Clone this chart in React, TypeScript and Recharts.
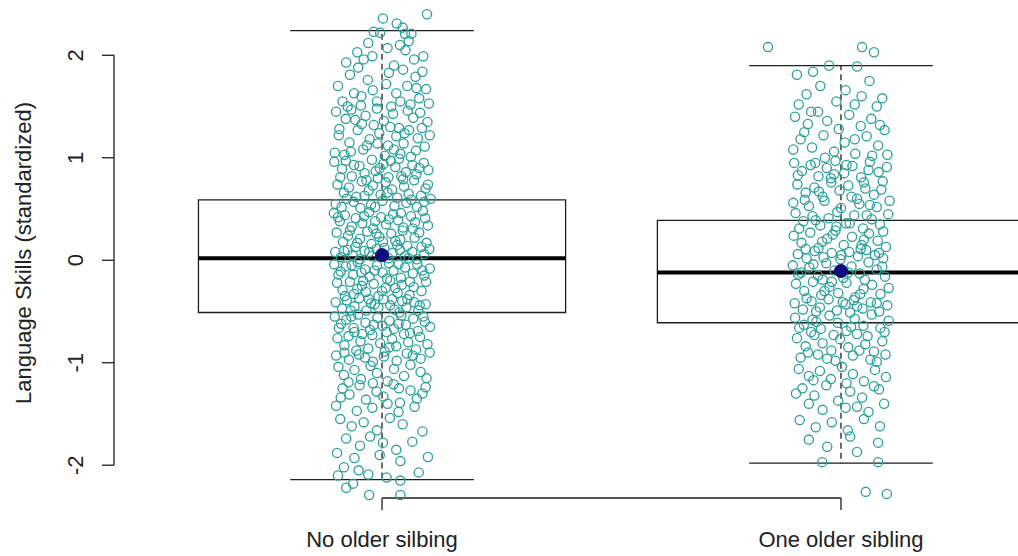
import { ScatterChart, Scatter, XAxis, YAxis, ReferenceArea, ReferenceLine } from 'recharts'

const groupNames = ['No older silbing', 'One older sibling']
const groupPositions = [1, 2]
const yTicks = [-2, -1, 0, 1, 2]

// box statistics
const boxLower = [-0.51, -0.61]
const boxMedian = [0.02, -0.12]
const boxUpper = [0.59, 0.39]
const whiskerLow = [-2.14, -1.98]
const whiskerHigh = [2.24, 1.9]
const groupMeans = [0.05, -0.105]

// jittered observations: [horizontal jitter, value]
const noOlderPoints: [number, number][] = [
  [0.002, 2.36], [0.098, 2.4], [-0.018, 2.23], [-0.004, 2.22], [0.045, 2.27], [0.05, 2.21], [0.064, 2.21], [0.032, 2.31],
  [-0.054, 2.03], [-0.04, 1.96], [0.039, 2.1], [0.051, 2.05], [0.058, 2.14], [0.07, 1.96], [0.026, 1.9], [-0.021, 1.99],
  [0.09, 1.99], [-0.078, 1.93], [0.012, 2.07], [-0.03, 2.12],
  [-0.07, 1.81], [-0.086, 1.55], [-0.061, 1.63], [-0.031, 1.76], [0.009, 1.72], [0.046, 1.86], [0.073, 1.79], [0.096, 1.67],
  [0.081, 1.58], [-0.011, 1.55], [0.031, 1.63], [-0.046, 1.51], [0.055, 1.7], [-0.096, 1.7], [0.015, 1.83], [0.062, 1.52],
  [-0.052, 1.88], [0.088, 1.84], [-0.02, 1.66], [0.04, 1.55], [-0.075, 1.5], [0.102, 1.53],
  [-0.045, 1.6], [0.02, 1.5], [0.075, 1.68],
  [-0.1, 1.45], [-0.079, 1.38], [-0.067, 1.47], [-0.044, 1.33], [-0.036, 1.41], [-0.011, 1.48], [0.004, 1.36], [0.024, 1.43],
  [0.037, 1.29], [0.056, 1.46], [0.068, 1.39], [0.083, 1.44], [0.099, 1.35], [-0.094, 1.22], [-0.071, 1.15], [-0.053, 1.27],
  [-0.027, 1.18], [-0.006, 1.24], [0.013, 1.12], [0.031, 1.21], [0.047, 1.14], [0.059, 1.27], [0.078, 1.19], [0.093, 1.11],
  [-0.103, 1.05], [-0.082, 1.03], [-0.041, 1.08], [0.006, 1.02], [0.04, 1.04], [0.074, 1.07], [0.104, 1.22], [-0.018, 1.32],
  [-0.093, 1.28], [-0.058, 1.37], [-0.033, 1.12], [0.018, 1.3], [0.049, 1.24], [0.087, 1.29], [-0.068, 1.06], [0.026, 1.08],
  [0.063, 1.01], [-0.01, 1.14],
  [-0.104, 0.96], [-0.087, 0.89], [-0.079, 0.97], [-0.066, 0.82], [-0.049, 0.92], [-0.038, 0.85], [-0.022, 0.98], [-0.014, 0.87],
  [0.003, 0.94], [0.014, 0.81], [0.029, 0.91], [0.037, 0.99], [0.052, 0.86], [0.066, 0.93], [0.075, 0.84], [0.091, 0.95],
  [0.101, 0.88], [-0.097, 0.74], [-0.083, 0.66], [-0.072, 0.71], [-0.056, 0.62], [-0.044, 0.77], [-0.029, 0.68], [-0.02, 0.73],
  [-0.003, 0.64], [0.008, 0.76], [0.022, 0.69], [0.033, 0.61], [0.048, 0.72], [0.058, 0.65], [0.07, 0.78], [0.085, 0.63],
  [0.095, 0.7], [0.106, 0.6], [-0.101, 0.55], [-0.088, 0.52], [-0.062, 0.57], [-0.047, 0.51], [-0.024, 0.54], [0.001, 0.58],
  [0.027, 0.53], [0.053, 0.56], [0.076, 0.52], [0.092, 0.57], [-0.009, 0.8], [0.042, 0.82],
  [-0.091, 0.81], [-0.061, 0.93], [-0.034, 0.78], [-0.005, 0.9], [0.019, 0.97], [0.046, 0.79], [0.081, 0.9], [-0.077, 0.6],
  [-0.038, 0.63], [0.012, 0.66], [0.064, 0.59], [0.1, 0.74], [-0.015, 0.52],
  [-0.105, 0.46], [-0.092, 0.38], [-0.081, 0.44], [-0.066, 0.33], [-0.057, 0.41], [-0.043, 0.36], [-0.028, 0.47], [-0.019, 0.31],
  [-0.002, 0.42], [0.009, 0.35], [0.024, 0.45], [0.035, 0.39], [0.046, 0.32], [0.063, 0.43], [0.072, 0.37], [0.089, 0.48],
  [0.1, 0.34], [-0.099, 0.27], [-0.085, 0.18], [-0.074, 0.24], [-0.058, 0.13], [-0.048, 0.21], [-0.032, 0.28], [-0.023, 0.16],
  [-0.006, 0.23], [0.005, 0.12], [0.02, 0.26], [0.029, 0.19], [0.045, 0.29], [0.055, 0.14], [0.071, 0.22], [0.081, 0.27],
  [0.097, 0.17], [-0.102, 0.08], [-0.09, 0.03], [-0.075, 0.1], [-0.064, 0.05], [-0.048, 0.01], [-0.038, 0.09], [-0.022, 0.04],
  [-0.012, 0.11], [0.014, 0.02], [0.023, 0.07], [0.039, 0.1], [0.05, 0.04], [0.066, 0.08], [0.076, 0.01], [0.092, 0.06],
  [0.103, 0.11], [-0.015, 0.38], [0.04, 0.2],
  [-0.096, 0.42], [-0.07, 0.29], [-0.039, 0.43], [-0.012, 0.26], [0.015, 0.4], [0.041, 0.46], [0.067, 0.31], [0.094, 0.41],
  [-0.083, 0.09], [-0.054, 0.17], [-0.028, 0.08], [0.002, 0.18], [0.033, 0.15], [0.058, 0.02], [0.086, 0.13],
  [-0.104, -0.04], [-0.09, -0.11], [-0.079, -0.06], [-0.063, -0.14], [-0.053, -0.02], [-0.037, -0.09], [-0.027, -0.16], [-0.011, -0.05],
  [0.001, -0.12], [0.015, -0.03], [0.025, -0.1], [0.041, -0.17], [0.05, -0.07], [0.067, -0.13], [0.077, -0.04], [0.092, -0.15],
  [0.104, -0.08], [-0.098, -0.22], [-0.086, -0.29], [-0.07, -0.21], [-0.061, -0.33], [-0.044, -0.25], [-0.035, -0.31], [-0.018, -0.23],
  [-0.008, -0.35], [0.008, -0.27], [0.018, -0.2], [0.034, -0.32], [0.043, -0.24], [0.06, -0.34], [0.069, -0.26], [0.086, -0.3],
  [0.096, -0.21], [-0.101, -0.41], [-0.087, -0.47], [-0.077, -0.39], [-0.06, -0.45], [-0.05, -0.37], [-0.034, -0.49], [-0.024, -0.42],
  [-0.008, -0.46], [0.003, -0.38], [0.018, -0.44], [0.027, -0.48], [0.044, -0.4], [0.053, -0.46], [0.07, -0.41], [0.079, -0.49],
  [0.095, -0.43], [-0.045, -0.12], [0.022, -0.38],
  [-0.095, -0.14], [-0.066, -0.05], [-0.041, -0.2], [-0.016, -0.1], [0.011, -0.18], [0.036, -0.04], [0.061, -0.21], [0.088, -0.1],
  [-0.081, -0.35], [-0.054, -0.28], [-0.029, -0.38], [0.0, -0.3], [0.029, -0.27], [0.055, -0.38], [0.082, -0.44], [-0.068, -0.49],
  [-0.016, -0.43], [0.038, -0.51],
  [-0.103, -0.55], [-0.089, -0.62], [-0.078, -0.58], [-0.062, -0.66], [-0.052, -0.53], [-0.036, -0.61], [-0.026, -0.68], [-0.01, -0.56],
  [0.001, -0.64], [0.016, -0.59], [0.026, -0.67], [0.042, -0.54], [0.052, -0.63], [0.068, -0.57], [0.078, -0.69], [0.093, -0.6],
  [0.105, -0.65], [-0.097, -0.76], [-0.082, -0.83], [-0.073, -0.74], [-0.056, -0.88], [-0.047, -0.79], [-0.03, -0.86], [-0.021, -0.73],
  [-0.004, -0.81], [0.006, -0.89], [0.022, -0.77], [0.031, -0.84], [0.048, -0.72], [0.057, -0.8], [0.074, -0.87], [0.083, -0.75],
  [0.099, -0.82], [-0.1, -0.93], [-0.072, -0.97], [-0.05, -0.92], [-0.02, -0.99], [0.004, -0.94], [0.032, -0.98], [0.054, -0.91],
  [0.084, -0.96], [-0.06, -0.7],
  [-0.094, -0.66], [-0.067, -0.55], [-0.043, -0.72], [-0.018, -0.63], [0.01, -0.7], [0.036, -0.62], [0.061, -0.71], [0.09, -0.55],
  [-0.082, -0.9], [-0.037, -0.95], [0.016, -0.85], [0.067, -0.93], [0.104, -0.9],
  [-0.095, -1.04], [-0.083, -1.12], [-0.06, -1.07], [-0.046, -1.16], [-0.025, -1.03], [-0.011, -1.1], [0.012, -1.18], [0.026, -1.06],
  [0.048, -1.13], [0.062, -1.02], [0.084, -1.09], [0.097, -1.15], [-0.086, -1.25], [-0.071, -1.31], [-0.049, -1.22], [-0.035, -1.36],
  [-0.012, -1.28], [0.003, -1.33], [0.025, -1.21], [0.039, -1.39], [0.062, -1.27], [0.076, -1.35], [0.095, -1.24], [-0.1, -1.42],
  [-0.055, -1.47], [-0.021, -1.44], [0.036, -1.48], [0.071, -1.43],
  [-0.073, -1.19], [-0.02, -1.2], [0.037, -1.25], [0.088, -1.3], [-0.09, -1.34], [0.012, -1.4],
  [-0.091, -1.55], [-0.066, -1.62], [-0.04, -1.58], [-0.011, -1.66], [0.017, -1.54], [0.045, -1.6], [0.088, -1.67], [-0.078, -1.74],
  [-0.048, -1.81], [-0.026, -1.72], [0.002, -1.78], [0.031, -1.85], [0.066, -1.77], [-0.098, -1.88], [-0.06, -1.93], [-0.005, -1.9],
  [0.04, -1.96], [0.1, -1.92],
  [-0.083, -2.02], [-0.051, -2.05], [-0.096, -2.1], [-0.03, -2.09], [-0.063, -2.18], [-0.078, -2.22], [0.01, -2.12], [0.04, -2.15],
  [0.08, -2.07], [-0.028, -2.29], [0.04, -2.29],
]

const oneOlderPoints: [number, number][] = [
  [-0.159, 2.08], [0.046, 2.08], [0.072, 2.03], [-0.026, 1.9], [0.035, 1.89], [-0.096, 1.81], [-0.061, 1.84], [-0.045, 1.7],
  [-0.075, 1.62], [0.062, 1.75], [0.01, 1.66], [-0.01, 1.55], [0.09, 1.58], [0.03, 1.52], [-0.092, 1.52], [0.078, 1.5],
  [-0.065, 1.45], [0.045, 1.6],
  [-0.1, 1.4], [-0.072, 1.33], [-0.05, 1.45], [-0.03, 1.36], [-0.005, 1.28], [0.018, 1.42], [0.043, 1.31], [0.066, 1.38],
  [0.095, 1.27], [-0.088, 1.18], [-0.063, 1.1], [-0.038, 1.22], [-0.015, 1.06], [0.008, 1.15], [0.031, 1.04], [0.056, 1.21],
  [0.081, 1.12], [0.101, 1.03], [-0.104, 1.08], [0.068, 1.02], [-0.08, 1.25], [-0.035, 1.0], [0.03, 1.18], [0.085, 1.32],
  [-0.102, 0.95], [-0.085, 0.87], [-0.066, 0.93], [-0.049, 0.82], [-0.031, 0.9], [-0.012, 0.97], [0.007, 0.85], [0.025, 0.92],
  [0.044, 0.81], [0.063, 0.96], [0.082, 0.86], [0.1, 0.91], [-0.095, 0.74], [-0.077, 0.66], [-0.058, 0.71], [-0.04, 0.62],
  [-0.021, 0.76], [-0.003, 0.68], [0.016, 0.73], [0.035, 0.6], [0.053, 0.7], [0.072, 0.64], [0.091, 0.77], [-0.104, 0.56],
  [-0.07, 0.53], [-0.036, 0.58], [0.0, 0.51], [0.04, 0.55], [0.078, 0.52], [0.106, 0.58], [-0.015, 0.84], [0.06, 0.88],
  [-0.094, 0.83], [-0.056, 0.95], [-0.022, 0.8], [0.012, 0.93], [0.05, 0.76], [0.088, 0.69], [-0.079, 0.59], [-0.048, 0.67],
  [0.023, 0.62], [0.063, 0.54],
  [-0.099, 0.46], [-0.082, 0.38], [-0.062, 0.43], [-0.045, 0.34], [-0.027, 0.41], [-0.008, 0.47], [0.011, 0.36], [0.029, 0.44],
  [0.048, 0.31], [0.067, 0.4], [0.085, 0.35], [0.103, 0.45], [-0.103, 0.24], [-0.086, 0.17], [-0.067, 0.27], [-0.049, 0.12],
  [-0.03, 0.21], [-0.012, 0.29], [0.006, 0.15], [0.024, 0.23], [0.043, 0.11], [0.061, 0.26], [0.08, 0.19], [0.098, 0.13],
  [-0.094, 0.06], [-0.075, 0.02], [-0.057, 0.09], [-0.038, 0.03], [-0.02, 0.07], [-0.001, 0.01], [0.018, 0.08], [0.037, 0.04],
  [0.055, 0.1], [0.074, 0.05], [0.092, 0.02], [-0.01, 0.33], [0.05, 0.2],
  [-0.091, 0.31], [-0.055, 0.39], [-0.018, 0.25], [0.019, 0.36], [0.056, 0.44], [0.092, 0.28], [-0.077, 0.11], [-0.041, 0.18],
  [0.001, 0.05], [0.045, 0.15], [0.083, 0.07],
  [-0.105, -0.05], [-0.087, -0.12], [-0.069, -0.07], [-0.05, -0.15], [-0.032, -0.03], [-0.014, -0.1], [0.005, -0.17], [0.023, -0.06],
  [0.041, -0.13], [0.06, -0.02], [0.078, -0.09], [0.096, -0.16], [-0.098, -0.23], [-0.08, -0.3], [-0.061, -0.21], [-0.043, -0.34],
  [-0.025, -0.26], [-0.006, -0.32], [0.012, -0.22], [0.031, -0.36], [0.049, -0.28], [0.068, -0.24], [0.086, -0.33], [0.104, -0.27],
  [-0.101, -0.42], [-0.083, -0.48], [-0.064, -0.4], [-0.046, -0.46], [-0.027, -0.38], [-0.009, -0.49], [0.01, -0.43], [0.028, -0.39],
  [0.047, -0.47], [0.065, -0.41], [0.083, -0.5], [0.101, -0.44], [-0.04, -0.19], [0.035, -0.45],
  [-0.093, -0.14], [-0.06, -0.04], [-0.02, -0.21], [0.016, -0.12], [0.052, -0.19], [0.09, -0.06], [-0.075, -0.37], [-0.036, -0.3],
  [0.004, -0.41], [0.042, -0.33], [0.078, -0.42], [-0.054, -0.5], [0.02, -0.51],
  [-0.1, -0.56], [-0.081, -0.63], [-0.062, -0.58], [-0.044, -0.67], [-0.025, -0.54], [-0.007, -0.61], [0.012, -0.69], [0.03, -0.57],
  [0.049, -0.64], [0.067, -0.53], [0.086, -0.66], [0.104, -0.59], [-0.096, -0.76], [-0.077, -0.84], [-0.058, -0.73], [-0.04, -0.81],
  [-0.021, -0.88], [-0.002, -0.77], [0.016, -0.85], [0.035, -0.72], [0.053, -0.82], [0.072, -0.89], [0.09, -0.79], [-0.088, -0.95],
  [-0.05, -0.92], [-0.012, -0.98], [0.026, -0.93], [0.064, -0.97], [0.097, -0.92], [-0.065, -0.7],
  [-0.091, -0.66], [-0.054, -0.6], [-0.016, -0.73], [0.022, -0.65], [0.058, -0.74], [0.095, -0.7], [-0.072, -0.9], [-0.03, -0.96],
  [0.04, -0.88], [0.078, -0.99],
  [-0.092, -1.06], [-0.07, -1.13], [-0.046, -1.08], [-0.022, -1.16], [0.002, -1.04], [0.026, -1.11], [0.05, -1.18], [0.074, -1.07],
  [0.098, -1.14], [-0.084, -1.25], [-0.058, -1.32], [-0.032, -1.22], [-0.006, -1.37], [0.02, -1.28], [0.046, -1.34], [0.072, -1.23],
  [0.094, -1.4], [-0.04, -1.46], [0.01, -1.44], [0.06, -1.48],
  [-0.06, -1.17], [0.012, -1.2], [0.083, -1.26], [-0.098, -1.3], [0.035, -1.43], [-0.07, -1.4],
  [-0.09, -1.56], [-0.055, -1.63], [-0.02, -1.58], [0.015, -1.66], [0.05, -1.55], [0.085, -1.62], [-0.07, -1.75], [-0.03, -1.82],
  [0.02, -1.72], [0.081, -1.78], [0.035, -1.87], [-0.041, -1.97], [0.081, -1.97],
  [0.054, -2.26], [0.1, -2.28],
]

const pointColor = '#2a9f9c'
const meanColor = '#0c0c80'
const lineColor = '#1e1e1e'
const textColor = '#222222'
const fontFamily = '"Liberation Sans", Arial, sans-serif'

const toScatter = (points: [number, number][], pos: number) =>
  points.map(([dx, y]) => ({ x: pos + dx, y }))

const noOlderData = toScatter(noOlderPoints, groupPositions[0])
const oneOlderData = toScatter(oneOlderPoints, groupPositions[1])
const meanData = groupPositions.map((x, i) => ({ x, y: groupMeans[i] }))

const OpenCircle = (props: any) => (
  <circle cx={props.cx} cy={props.cy} r={4.6} fill="none" stroke={pointColor} strokeWidth={1.3} />
)

const MeanDot = (props: any) => (
  <circle cx={props.cx} cy={props.cy} r={6.5} fill={meanColor} stroke={meanColor} />
)

const XTick = (props: any) => {
  const idx = groupPositions.indexOf(props.payload.value)
  return (
    <text x={props.x} y={props.y} dy={35} textAnchor="middle" fontSize={22} fill={textColor} fontFamily={fontFamily}>
      {groupNames[idx]}
    </text>
  )
}

const YTick = (props: any) => {
  const x = props.x - 17
  return (
    <text x={x} y={props.y} textAnchor="middle" fontSize={22} fill={textColor} fontFamily={fontFamily}
      transform={`rotate(-90 ${x} ${props.y})`}>
      {props.payload.value}
    </text>
  )
}

const X_MIN = 0.416
const X_MAX = 2.584
const Y_MIN = -2.32
const Y_MAX = 2.52

export default function App() {
  return (
    <div style={{ position: 'absolute', left: 0, top: 0, width: 1018, height: 556, overflow: 'hidden', background: '#fff' }}>
      <ScatterChart width={1109} height={556} margin={{ top: 2, right: 0, bottom: 0, left: 0 }}>
        <XAxis
          type="number"
          dataKey="x"
          domain={[X_MIN, X_MAX]}
          ticks={groupPositions}
          axisLine={false}
          tickLine={{ stroke: lineColor, strokeWidth: 1.3 }}
          tickSize={12}
          height={58}
          tick={<XTick />}
        />
        <YAxis
          type="number"
          dataKey="y"
          domain={[Y_MIN, Y_MAX]}
          ticks={yTicks}
          axisLine={false}
          tickLine={{ stroke: lineColor, strokeWidth: 1.3 }}
          tickSize={12}
          width={114}
          tick={<YTick />}
        />

        {/* axis lines only span the tick range, like base R */}
        <ReferenceLine segment={[{ x: X_MIN, y: -2 }, { x: X_MIN, y: 2 }]} stroke={lineColor} strokeWidth={1.3} />
        <ReferenceLine segment={[{ x: 1, y: Y_MIN }, { x: 2, y: Y_MIN }]} stroke={lineColor} strokeWidth={1.3} />

        {/* boxplots */}
        {groupPositions.map((pos, i) => (
          <ReferenceArea
            key={`box-${i}`}
            x1={pos - 0.4}
            x2={pos + 0.4}
            y1={boxLower[i]}
            y2={boxUpper[i]}
            fill="none"
            fillOpacity={0}
            stroke={lineColor}
            strokeWidth={1.3}
          />
        ))}
        {groupPositions.map((pos, i) => (
          <ReferenceLine key={`med-${i}`} segment={[{ x: pos - 0.4, y: boxMedian[i] }, { x: pos + 0.4, y: boxMedian[i] }]}
            stroke="#000" strokeWidth={4} />
        ))}
        {groupPositions.map((pos, i) => (
          <ReferenceLine key={`wu-${i}`} segment={[{ x: pos, y: boxUpper[i] }, { x: pos, y: whiskerHigh[i] }]}
            stroke={lineColor} strokeWidth={1.3} strokeDasharray="6 4" />
        ))}
        {groupPositions.map((pos, i) => (
          <ReferenceLine key={`wl-${i}`} segment={[{ x: pos, y: boxLower[i] }, { x: pos, y: whiskerLow[i] }]}
            stroke={lineColor} strokeWidth={1.3} strokeDasharray="6 4" />
        ))}
        {groupPositions.map((pos, i) => (
          <ReferenceLine key={`cu-${i}`} segment={[{ x: pos - 0.2, y: whiskerHigh[i] }, { x: pos + 0.2, y: whiskerHigh[i] }]}
            stroke={lineColor} strokeWidth={1.3} />
        ))}
        {groupPositions.map((pos, i) => (
          <ReferenceLine key={`cl-${i}`} segment={[{ x: pos - 0.2, y: whiskerLow[i] }, { x: pos + 0.2, y: whiskerLow[i] }]}
            stroke={lineColor} strokeWidth={1.3} />
        ))}

        <Scatter data={noOlderData} shape={<OpenCircle />} isAnimationActive={false} />
        <Scatter data={oneOlderData} shape={<OpenCircle />} isAnimationActive={false} />
        <Scatter data={meanData} shape={<MeanDot />} isAnimationActive={false} />

        <text x={31} y={253} textAnchor="middle" fontSize={22} fill={textColor} fontFamily={fontFamily}
          transform="rotate(-90 31 253)">
          Language Skills (standardized)
        </text>
      </ScatterChart>
    </div>
  )
}
